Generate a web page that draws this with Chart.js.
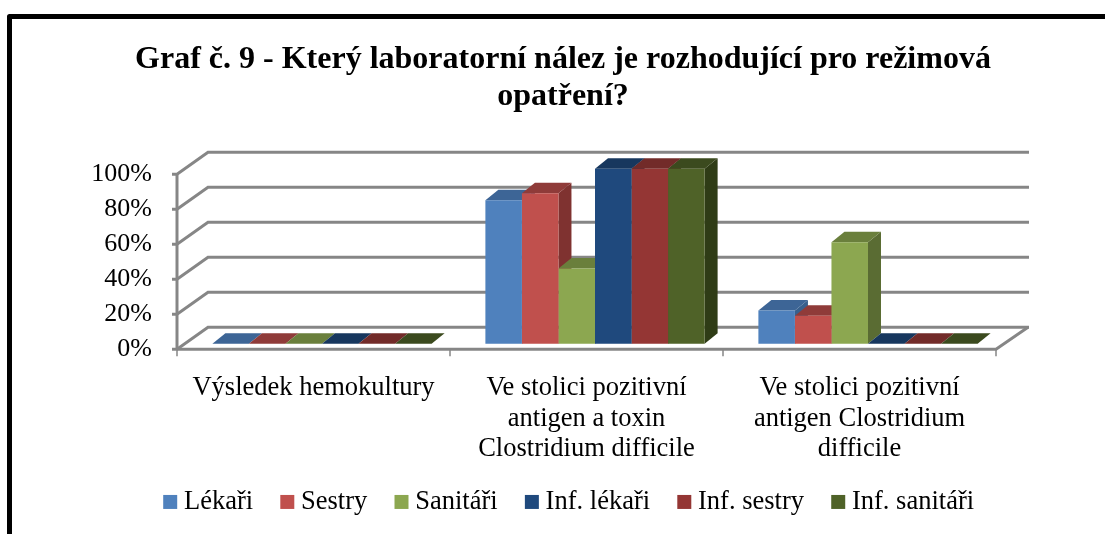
<!DOCTYPE html>
<html><head><meta charset="utf-8">
<style>html,body{margin:0;padding:0;background:#fff}#w{position:relative;width:1105px;height:534px;overflow:hidden}</style>
<script src="https://cdn.jsdelivr.net/npm/chart.js@4"></script>
</head><body><div id="w"><canvas id="c" width="1105" height="534"></canvas></div>
<script>
const categories = [['Výsledek hemokultury'], ['Ve stolici pozitivní','antigen a toxin','Clostridium difficile'], ['Ve stolici pozitivní','antigen Clostridium','difficile']];
const titleLines = ['Graf č. 9 - Který laboratorní nález je rozhodující pro režimová','opatření?'];
const seriesNames = ['Lékaři','Sestry','Sanitáři','Inf. lékaři','Inf. sestry','Inf. sanitáři'];
const lekari = [0, 82, 19];
const sestry = [0, 86, 16];
const sanitari = [0, 43, 58];
const infLekari = [0, 100, 0];
const infSestry = [0, 100, 0];
const infSanitari = [0, 100, 0];
const seriesValues = [lekari, sestry, sanitari, infLekari, infSestry, infSanitari];
const frontColors = ['#4F81BD','#C0504D','#8CA750','#1F497D','#943634','#4F6228'];
const topColors = ['#3D6596','#8F3B39','#6A7F3C','#17375E','#722B29','#3B4A1E'];
const sideColors = ['#38608D','#7F3230','#5A6C33','#142F50','#5F2422','#2F3C16'];
const FONT = '"Liberation Serif","Times New Roman",serif';
const GRID = '#868686';
const wall = {dx:31, dy:-22};
const barDepth = {dx:13, dy:-10.5};
const barShift = {x:8.5, y:-5.5};

const scene = {
  id:'scene',
  afterLayout(chart){
    const t = chart.titleBlock, l = chart.legend;
    t.left = 11; t.right = 1115; t.top = 41.5;
    l.left = 136; l.right = 1100; l.top = 455;
  },
  beforeDraw(chart){
    const c = chart.ctx;
    c.save();
    c.strokeStyle = '#000'; c.lineWidth = 5; c.lineJoin = 'round';
    c.beginPath(); c.moveTo(9.5,534); c.lineTo(9.5,16.5); c.lineTo(1105,16.5); c.stroke();
    c.restore();
  },
  beforeDatasetsDraw(chart){
    const c = chart.ctx, x = chart.scales.x, y = chart.scales.y, a = chart.chartArea;
    c.save();
    c.strokeStyle = GRID; c.lineWidth = 3; c.lineCap = 'butt'; c.lineJoin = 'miter';
    y.ticks.forEach(t => {
      const py = y.getPixelForValue(t.value);
      c.beginPath(); c.moveTo(a.left-5, py); c.lineTo(a.left, py);
      c.lineTo(a.left+wall.dx, py+wall.dy); c.lineTo(a.right+wall.dx+2, py+wall.dy); c.stroke();
    });
    c.beginPath(); c.moveTo(a.left, a.top); c.lineTo(a.left, a.bottom); c.stroke();
    c.beginPath(); c.moveTo(a.left, a.bottom); c.lineTo(a.right, a.bottom); c.lineTo(a.right+wall.dx+1, a.bottom+wall.dy); c.stroke();
    c.lineWidth = 1.5;
    const n = categories.length, step = (a.right-a.left)/n;
    for(let i=0;i<=n;i++){ const px = a.left+i*step; c.beginPath(); c.moveTo(px,a.bottom); c.lineTo(px,a.bottom+7); c.stroke(); }
    c.restore();
    c.save();
    c.translate(barShift.x, barShift.y);
    categories.forEach((_, ci) => {
      seriesValues.forEach((_, si) => {
        const b = chart.getDatasetMeta(si).data[ci];
        const L = b.x-b.width/2, R = b.x+b.width/2, T = b.y, B = b.base;
        c.fillStyle = sideColors[si];
        c.beginPath(); c.moveTo(R,T); c.lineTo(R+barDepth.dx,T+barDepth.dy); c.lineTo(R+barDepth.dx,B+barDepth.dy); c.lineTo(R,B); c.closePath(); c.fill();
        c.fillStyle = topColors[si];
        c.beginPath(); c.moveTo(L,T); c.lineTo(L+barDepth.dx,T+barDepth.dy); c.lineTo(R+barDepth.dx,T+barDepth.dy); c.lineTo(R,T); c.closePath(); c.fill();
      });
    });
  },
  afterDatasetsDraw(chart){ chart.ctx.restore(); }
};

new Chart(document.getElementById('c'), {
  type:'bar',
  plugins:[scene],
  data:{
    labels:categories,
    datasets:seriesNames.map((name,i)=>({
      label:name, data:seriesValues[i], backgroundColor:frontColors[i], borderWidth:0,
      categoryPercentage:0.803, barPercentage:1, clip:false
    }))
  },
  options:{
    responsive:false, animation:false,
    layout:{padding:{left:0,right:109,top:0,bottom:-28}},
    plugins:{
      tooltip:{enabled:false},
      title:{display:true,text:titleLines,color:'#000',font:{family:FONT,size:32,weight:'bold',lineHeight:1.15},padding:{top:0,bottom:100.7}},
      legend:{position:'bottom',align:'start',labels:{
        font:{family:FONT,size:26.5},color:'#000',boxWidth:1,boxHeight:1,padding:33.7,
        generateLabels(chart){
          return Chart.defaults.plugins.legend.labels.generateLabels(chart).map((it,i)=>({...it,fillStyle:frontColors[i],strokeStyle:frontColors[i],lineWidth:13}));
        }
      }}
    },
    scales:{
      x:{
        grid:{display:false},border:{display:false},
        ticks:{color:'#000',font:{family:FONT,size:26.5,lineHeight:1.14},padding:16,maxRotation:0,autoSkip:false},
        afterFit(s){s.height=142.5;}
      },
      y:{
        min:0,max:100,
        grid:{display:false},border:{display:false},
        ticks:{stepSize:20,color:'#000',font:{family:FONT,size:26},padding:17,callback:v=>v+'%'},
        afterFit(s){s.width=177;}
      }
    }
  }
});
</script></body></html>
